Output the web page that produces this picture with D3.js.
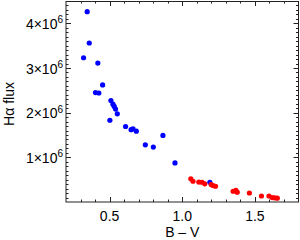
<!DOCTYPE html>
<html lang="en">
<head>
  <meta charset="UTF-8">
  <title>H-alpha flux vs B-V</title>
  <style>
    body { margin: 0; padding: 0; background: #fff; }
    svg { display: block; font-family: "Liberation Sans", Arial, sans-serif; }
    .frame { fill: none; stroke: #222; stroke-width: 1; }
    .tick { stroke: #222; stroke-width: 1; }
    .lbl { font-size: 14px; fill: #000; }
  </style>
</head>
<body>
  <script src="https://d3js.org/d3.v7.min.js"></script>
  <script>
    // blue series (B-V, H-alpha flux)
    const blueX = [0.346, 0.360, 0.321, 0.419, 0.452, 0.403, 0.426, 0.509, 0.523, 0.532, 0.541,
                   0.553, 0.502, 0.610, 0.648, 0.661, 0.684, 0.746, 0.801, 0.867, 0.950, 1.190];
    const blueY = [4.26e6, 3.56e6, 3.23e6, 3.11e6, 2.62e6, 2.45e6, 2.44e6, 2.27e6, 2.19e6, 2.14e6, 2.08e6,
                   1.975e6, 1.83e6, 1.69e6, 1.62e6, 1.64e6, 1.585e6, 1.28e6, 1.23e6, 1.49e6, 0.875e6, 0.44e6];
    // red series
    const redX = [1.059, 1.074, 1.114, 1.136, 1.155, 1.199, 1.212, 1.229, 1.350, 1.369, 1.378,
                  1.462, 1.545, 1.597, 1.619, 1.636, 1.654];
    const redY = [0.518e6, 0.464e6, 0.446e6, 0.442e6, 0.406e6, 0.391e6, 0.368e6, 0.353e6, 0.241e6, 0.263e6, 0.219e6,
                  0.201e6, 0.134e6, 0.134e6, 0.100e6, 0.094e6, 0.085e6];

    const xTicks = [0.5, 1.0, 1.5];
    const xTickLabels = ["0.5", "1.0", "1.5"];
    const yTicks = [1e6, 2e6, 3e6, 4e6];
    const yTickLabels = ["1", "2", "3", "4"];

    const width = 300, height = 240;
    const mLeft = 66, mRight = 298.5, mTop = 1, mBottom = 202;

    const x = d3.scaleLinear().domain([0.2, 1.8]).range([mLeft, mRight]);
    const y = d3.scaleLinear().domain([0, 4.5e6]).range([mBottom, mTop]);

    const svg = d3.select('body').append('svg')
      .attr('width', width)
      .attr('height', height);

    // ticks on all four sides, pointing inward
    const xMinor = d3.range(3, 18).map(v => v / 10);
    const yMinor = d3.range(1, 45).map(v => v * 1e5);
    const g = svg.append('g');

    xMinor.forEach(v => {
      const major = xTicks.some(t => Math.abs(t - v) < 1e-6);
      const len = major ? 5 : 2.5;
      const px = Math.round(x(v)) + 0.5;
      g.append('line').attr('class', 'tick').attr('x1', px).attr('x2', px).attr('y1', mBottom).attr('y2', mBottom - len);
      g.append('line').attr('class', 'tick').attr('x1', px).attr('x2', px).attr('y1', mTop).attr('y2', mTop + len);
    });
    yMinor.forEach(v => {
      const major = yTicks.some(t => Math.abs(t - v) < 1);
      const len = major ? 5 : 2.5;
      const py = Math.round(y(v)) + 0.5;
      g.append('line').attr('class', 'tick').attr('x1', mLeft).attr('x2', mLeft + len).attr('y1', py).attr('y2', py);
      g.append('line').attr('class', 'tick').attr('x1', mRight).attr('x2', mRight - len).attr('y1', py).attr('y2', py);
    });

    g.append('rect').attr('class', 'frame')
      .attr('x', mLeft).attr('y', mTop + 0.5)
      .attr('width', mRight - mLeft).attr('height', mBottom - mTop - 0.5);

    // x tick labels
    svg.selectAll('.xl').data(xTicks).enter().append('text')
      .attr('class', 'lbl')
      .attr('x', d => x(d))
      .attr('y', 221)
      .attr('text-anchor', 'middle')
      .text((d, i) => xTickLabels[i]);

    // y tick labels as m×10^6
    const yl = svg.selectAll('.yl').data(yTicks).enter().append('text')
      .attr('class', 'lbl')
      .attr('x', 63)
      .attr('y', d => y(d) + 5.5)
      .attr('text-anchor', 'end');
    yl.append('tspan').text((d, i) => yTickLabels[i] + '×10');
    yl.append('tspan').attr('dy', -5.5).style('font-size', '10px').text('6');

    // axis titles
    svg.append('text').attr('class', 'lbl')
      .attr('x', (mLeft + mRight) / 2).attr('y', 236.5)
      .attr('text-anchor', 'middle')
      .text('B – V');
    svg.append('text').attr('class', 'lbl')
      .attr('transform', 'translate(13.5,104) rotate(-90)')
      .attr('text-anchor', 'middle')
      .text('Hα flux');

    // points
    svg.append('g').selectAll('circle').data(d3.range(blueX.length)).enter().append('circle')
      .attr('cx', i => x(blueX[i]))
      .attr('cy', i => y(blueY[i]))
      .attr('r', 2.6)
      .attr('fill', '#0000ff');
    svg.append('g').selectAll('circle').data(d3.range(redX.length)).enter().append('circle')
      .attr('cx', i => x(redX[i]))
      .attr('cy', i => y(redY[i]))
      .attr('r', 2.6)
      .attr('fill', '#ff0000');
  </script>
</body>
</html>
